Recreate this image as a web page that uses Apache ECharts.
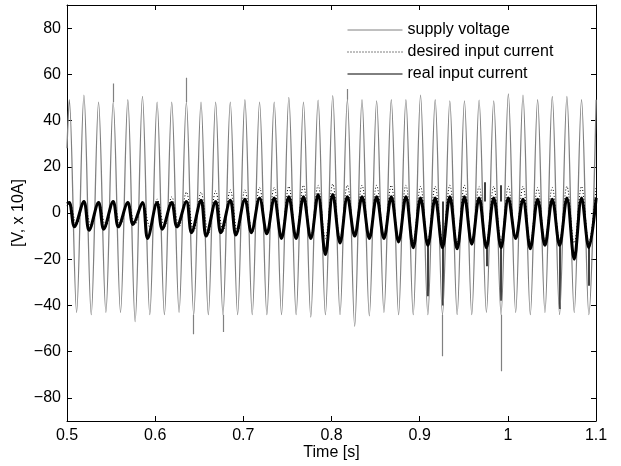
<!DOCTYPE html>
<html>
<head>
<meta charset="utf-8">
<script src="https://cdn.jsdelivr.net/npm/echarts@6/dist/echarts.min.js"></script>
<style>html,body{margin:0;padding:0;background:#fff}#c{width:621px;height:466px}</style>
</head>
<body>
<div id="c"></div>
<script>
// ---- data ----
const xTicks = [0.5, 0.6, 0.7, 0.8, 0.9, 1.0, 1.1];
const yTicks = [-80, -60, -40, -20, 0, 20, 40, 60, 80];

// times of voltage positive peaks (s)
const peakTimes = [0.5026,0.5192,0.5358,0.5524,0.5690,0.5856,0.6022,0.6188,0.6354,0.6520,
  0.6686,0.6852,0.7018,0.7184,0.7350,0.7516,0.7682,0.7848,0.8014,0.8180,
  0.8346,0.8512,0.8678,0.8844,0.9010,0.9176,0.9342,0.9508,0.9674,0.9840,
  1.0006,1.0172,1.0338,1.0504,1.0670,1.0836,1.1002];
// times of voltage negative peaks (s)
const troughTimes = [0.5109,0.5275,0.5441,0.5607,0.5773,0.5939,0.6105,0.6271,0.6437,0.6603,
  0.6769,0.6935,0.7101,0.7267,0.7433,0.7599,0.7765,0.7931,0.8097,0.8263,
  0.8429,0.8595,0.8761,0.8927,0.9093,0.9259,0.9425,0.9591,0.9757,0.9923,
  1.0089,1.0255,1.0421,1.0587,1.0753,1.0919];

// supply voltage
const voltStart = [0.5, 28];
const voltPeaks = [49,51,48,48,49,50.5,48,48,48,48,
  48,48,49,48,48,50,48,48.8,50.8,49,
  49,48.5,49,49,51,49,48.5,48.5,48.8,48.5,
  51.5,51,49,50.4,50.4,49,49];
const voltTroughs = [-43,-44,-43,-43,-47,-44,-44,-43,-44,-44,
  -44,-44,-44,-44,-44,-44,-45,-44,-44,-49,
  -44.5,-43,-44,-44,-44,-44,-44,-44,-43,-44,
  -43,-44,-43,-44,-43,-44];
// narrow voltage spikes: [time, from, to]
const voltSpikes = [[0.5524,48,56],[0.6354,48,58.5],[0.6437,-44,-52.5],[0.6769,-44,-51.5],
  [0.8180,49,53.7],[0.9259,-44,-62],[0.9930,-44,-68.5]];

// desired input current
const desStart = [0.5, 3];
const desPeaks = [5,5,5,5,5,5,6,7,9,9,
  9.5,10,10,11,11,11.5,12,12,12.5,12,
  12,12,12,12,11.5,11.5,12,12,11.5,11.5,
  11.5,11.5,11,11,11.5,11.5,11.5];
const desTroughs = [-5,-6,-6,-5,-5,-6,-6,-6,-8,-9,
  -8,-9,-8.5,-9,-10,-10,-10,-11,-11,-10,
  -11,-10,-12,-12,-12,-12,-13,-12,-13,-12,
  -11,-13,-12,-12,-13,-13];

// real input current
const curStart = [0.5, 4];
const curPeaks = [4.5,5,4.5,5,4.5,4.5,4.5,4.5,5,5.5,
  5,5.5,6,6.5,6.5,7,7,8,8,7,
  7,7,7,7,6.5,6.5,7,7,6.5,6.5,
  6.5,6,6,6,6.5,6.5,6.5];
const curTroughTimes = [0.5084,0.5250,0.5416,0.5582,0.5748,0.5914,0.6080,0.6246,0.6412,0.6578,
  0.6744,0.6915,0.7091,0.7267,0.7433,0.7599,0.7765,0.7931,0.8097,0.8263,
  0.8429,0.8595,0.8761,0.8927,0.9093,0.9259,0.9425,0.9591,0.9757,0.9923,
  1.0089,1.0255,1.0421,1.0587,1.0753,1.0919];
const curTroughs = [-6,-7.5,-7,-6,-5,-11,-7,-6,-8.5,-10,
  -8.5,-9.5,-8.5,-9,-11,-11,-11,-18,-13,-10,
  -11,-11,-12.5,-15,-14,-15,-15.5,-13.5,-15,-15,
  -11,-15.5,-14,-14,-20,-15];
// narrow current spikes: [time, from, to]
const curSpikes = [[0.9093,-14,-36],[0.9259,5,-40],[0.9739,5,13.3],[0.9757,-15,-23],
  [0.9920,5,12],[0.9923,-15,-38],[1.0587,-14,-41.5],[1.0919,-15,-31.5]];

// ---- build series data ----
function wave(start, pT, pV, tT, tV) {
  const pts = [start];
  for (let i = 0; i < pT.length; i++) {
    pts.push([pT[i], pV[i]]);
    if (i < tT.length) pts.push([tT[i], tV[i]]);
  }
  return pts.sort((a, b) => a[0] - b[0]);
}
function spikes(list) {
  return list.map(s => ({ coords: [[s[0], s[1]], [s[0], s[2]]] }));
}

const FONT = 'Liberation Sans';
const FS = 16;
const GRAY = '#808080';
const chart = echarts.init(document.getElementById('c'), null, { renderer: 'canvas' });
const minusFmt = v => String(v).replace('-', '\u2212');

chart.setOption({
  animation: false,
  backgroundColor: '#fff',
  grid: { left: 67, right: 25, top: 5, bottom: 44, containLabel: false },
  legend: {
    orient: 'vertical', left: 342, top: 17, padding: 5,
    itemWidth: 55, itemHeight: 14, itemGap: 6,
    data: ['supply voltage', 'desired input current', 'real input current'],
    lineStyle: { width: 1 },
    itemStyle: { color: 'rgba(0,0,0,0)', borderColor: 'rgba(0,0,0,0)', borderWidth: 0 },
    textStyle: { fontFamily: FONT, fontSize: FS, color: '#000' },
    selectedMode: false
  },
  xAxis: [{
    type: 'value', min: 0.5, max: 1.1, interval: 0.1,
    name: 'Time [s]', nameLocation: 'middle', nameGap: 24, nameMoveOverlap: false,
    nameTextStyle: { fontFamily: FONT, fontSize: FS, color: '#000' },
    axisLine: { show: true, onZero: false, lineStyle: { color: '#000', width: 1 } },
    axisTick: { show: true, inside: true, length: 5, lineStyle: { color: '#000' } },
    axisLabel: { fontFamily: FONT, fontSize: FS, color: '#000', margin: 7,
      customValues: xTicks, formatter: v => String(Math.round(v * 10) / 10) },
    splitLine: { show: false }
  }, {
    type: 'value', min: 0.5, max: 1.1, interval: 0.1, position: 'top',
    axisLine: { show: true, onZero: false, lineStyle: { color: '#000', width: 1 } },
    axisTick: { show: true, inside: true, length: 5, lineStyle: { color: '#000' } },
    axisLabel: { show: false }, splitLine: { show: false }
  }],
  yAxis: [{
    type: 'value', min: -90, max: 90,
    name: '[V, x 10A]', nameLocation: 'middle', nameGap: 40, nameMoveOverlap: false,
    nameTextStyle: { fontFamily: FONT, fontSize: FS, color: '#000' },
    axisLine: { show: true, onZero: false, lineStyle: { color: '#000', width: 1 } },
    axisTick: { show: true, inside: true, length: 5, customValues: yTicks, lineStyle: { color: '#000' } },
    axisLabel: { fontFamily: FONT, fontSize: FS, color: '#000', margin: 6,
      customValues: yTicks, formatter: minusFmt },
    splitLine: { show: false }
  }, {
    type: 'value', min: -90, max: 90, position: 'right',
    axisLine: { show: true, onZero: false, lineStyle: { color: '#000', width: 1 } },
    axisTick: { show: true, inside: true, length: 5, customValues: yTicks, lineStyle: { color: '#000' } },
    axisLabel: { show: false }, splitLine: { show: false }
  }],
  series: [
    {
      name: 'supply voltage', type: 'line', showSymbol: false, symbol: 'none',
      smooth: 0.35, clip: true, xAxisIndex: 0, yAxisIndex: 0,
      lineStyle: { color: GRAY, width: 1.3 }, itemStyle: { color: GRAY },
      data: wave(voltStart, peakTimes, voltPeaks, troughTimes, voltTroughs)
    },
    {
      name: 'voltage spikes', type: 'lines', coordinateSystem: 'cartesian2d',
      xAxisIndex: 0, yAxisIndex: 0, silent: true,
      lineStyle: { color: GRAY, width: 1.2, opacity: 1 },
      data: spikes(voltSpikes)
    },
    {
      name: 'desired input current', type: 'line', showSymbol: false, symbol: 'none',
      smooth: 0.35, clip: true,
      lineStyle: { color: '#000', width: 1, type: [1, 2] }, itemStyle: { color: '#000' },
      data: wave(desStart, peakTimes, desPeaks, troughTimes, desTroughs)
    },
    {
      name: 'real input current', type: 'line', showSymbol: false, symbol: 'none',
      smooth: 0.35, clip: true,
      lineStyle: { color: '#000', width: 3 }, itemStyle: { color: '#000' },
      data: wave(curStart, peakTimes, curPeaks, curTroughTimes, curTroughs)
    },
    {
      name: 'current spikes', type: 'lines', coordinateSystem: 'cartesian2d',
      silent: true,
      lineStyle: { color: '#000', width: 1.5, opacity: 1 },
      data: spikes(curSpikes)
    }
  ]
});
</script>
</body>
</html>
